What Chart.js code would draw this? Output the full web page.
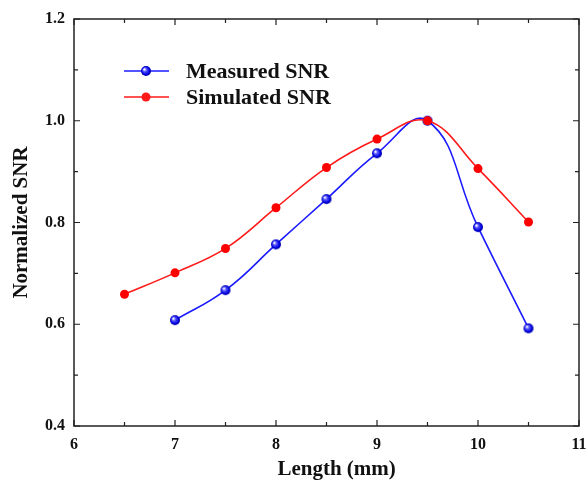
<!DOCTYPE html>
<html>
<head>
<meta charset="utf-8">
<script src="https://cdn.jsdelivr.net/npm/chart.js@4"></script>
<style>
  html, body { margin: 0; padding: 0; background: #fff; }
  #wrap { width: 587px; height: 482px; }
</style>
</head>
<body>
<div id="wrap"><canvas id="c" width="587" height="482"></canvas></div>
<script>
// values
const measuredX = [7, 7.5, 8, 8.5, 9, 9.5, 10, 10.5];
const measuredY = [0.608, 0.667, 0.757, 0.846, 0.936, 1.0, 0.791, 0.592];
const simulatedX = [6.5, 7, 7.5, 8, 8.5, 9, 9.5, 10, 10.5];
const simulatedY = [0.659, 0.701, 0.749, 0.829, 0.908, 0.964, 1.0, 0.906, 0.801];
const seriesNames = ['Measured SNR', 'Simulated SNR'];
const xTitle = 'Length (mm)';
const yTitle = 'Normalized SNR';

const FONT = '"Liberation Serif", "Times New Roman", serif';
const BLUE = '#1a1aff';
const RED = '#ff1a1a';

// shiny blue ball marker
function ballImage(r) {
  const cv = document.createElement('canvas');
  cv.width = cv.height = r * 2 + 2;
  const g = cv.getContext('2d');
  const c = r + 1;
  const grad = g.createRadialGradient(c - r * 0.35, c - r * 0.35, 0.5, c, c, r);
  grad.addColorStop(0, '#ffffff');
  grad.addColorStop(0.3, '#5a5aff');
  grad.addColorStop(0.75, '#0000e0');
  grad.addColorStop(1, '#0000a0');
  g.fillStyle = grad;
  g.beginPath(); g.arc(c, c, r, 0, Math.PI * 2); g.fill();
  return cv;
}
const ball = ballImage(5);

const frame = {
  id: 'frame',
  afterDraw(chart) {
    const { ctx, chartArea: a, scales: { x, y } } = chart;
    ctx.save();
    ctx.strokeStyle = '#222';
    ctx.lineWidth = 1.5;
    ctx.strokeRect(a.left, a.top, a.right - a.left, a.bottom - a.top);
    ctx.lineWidth = 1.2;
    ctx.beginPath();
    x.ticks.forEach(t => {
      const px = x.getPixelForValue(t.value);
      const len = t.value % 1 === 0 ? 6 : 4;
      ctx.moveTo(px, a.bottom); ctx.lineTo(px, a.bottom - len);
      ctx.moveTo(px, a.top); ctx.lineTo(px, a.top + len);
    });
    y.ticks.forEach(t => {
      const py = y.getPixelForValue(t.value);
      const len = Math.round(t.value * 10) % 2 === 0 ? 6 : 4;
      ctx.moveTo(a.left, py); ctx.lineTo(a.left + len, py);
      ctx.moveTo(a.right, py); ctx.lineTo(a.right - len, py);
    });
    ctx.stroke();

    // x title, sits a bit right of the plot centre in the original
    ctx.font = 'bold 21px ' + FONT;
    ctx.fillStyle = '#111';
    ctx.textAlign = 'center';
    ctx.textBaseline = 'middle';
    ctx.fillText(xTitle, x.getPixelForValue(8.6), 470);

    // legend
    const items = [
      { text: seriesNames[0], color: BLUE, ball: true, y: 71 },
      { text: seriesNames[1], color: RED, ball: false, y: 97 }
    ];
    ctx.font = 'bold 22px ' + FONT;
    ctx.textAlign = 'left';
    items.forEach(it => {
      ctx.strokeStyle = it.color;
      ctx.lineWidth = 1.5;
      ctx.beginPath(); ctx.moveTo(124, it.y); ctx.lineTo(169, it.y); ctx.stroke();
      if (it.ball) {
        ctx.drawImage(ball, 146 - ball.width / 2, it.y - ball.height / 2);
      } else {
        ctx.fillStyle = it.color;
        ctx.beginPath(); ctx.arc(146, it.y, 4.5, 0, Math.PI * 2); ctx.fill();
      }
      ctx.fillStyle = '#111';
      ctx.fillText(it.text, 186, it.y + 1);
    });
    ctx.restore();
  }
};

new Chart(document.getElementById('c'), {
  type: 'line',
  data: {
    datasets: [
      {
        label: seriesNames[0],
        data: measuredX.map((v, i) => ({ x: v, y: measuredY[i] })),
        borderColor: BLUE,
        borderWidth: 1.6,
        tension: 0.45,
        pointStyle: ball,
        pointRadius: 5,
        order: 2
      },
      {
        label: seriesNames[1],
        data: simulatedX.map((v, i) => ({ x: v, y: simulatedY[i] })),
        borderColor: RED,
        backgroundColor: '#ff0000',
        borderWidth: 1.6,
        tension: 0.4,
        pointRadius: 4.5,
        pointBorderWidth: 0,
        order: 1
      }
    ]
  },
  options: {
    responsive: false,
    animation: false,
    layout: { padding: { top: 19, right: 8, left: 0, bottom: 0 } },
    plugins: { legend: { display: false }, tooltip: { enabled: false } },
    scales: {
      x: {
        type: 'linear',
        min: 6, max: 11,
        grid: { display: false, drawTicks: false },
        border: { display: false },
        afterFit(s) { s.height = 56; s.paddingRight = 0; s.paddingLeft = 0; },
        ticks: {
          stepSize: 0.5,
          padding: 9,
          color: '#111',
          font: { family: FONT, weight: 'bold', size: 16 },
          callback: v => (v % 1 === 0 ? String(v) : '')
        }
      },
      y: {
        min: 0.4, max: 1.2,
        grid: { display: false, drawTicks: false },
        border: { display: false },
        afterFit(s) { s.width = 74; s.paddingTop = 0; s.paddingBottom = 0; },
        ticks: {
          stepSize: 0.1,
          padding: 9,
          color: '#111',
          font: { family: FONT, weight: 'bold', size: 16 },
          callback: v => (Math.round(v * 10) % 2 === 0 ? v.toFixed(1) : '')
        },
        title: {
          display: true,
          text: yTitle,
          color: '#111',
          font: { family: FONT, weight: 'bold', size: 21 },
          padding: { top: 9, bottom: 4 }
        }
      }
    }
  },
  plugins: [frame]
});
</script>
</body>
</html>
